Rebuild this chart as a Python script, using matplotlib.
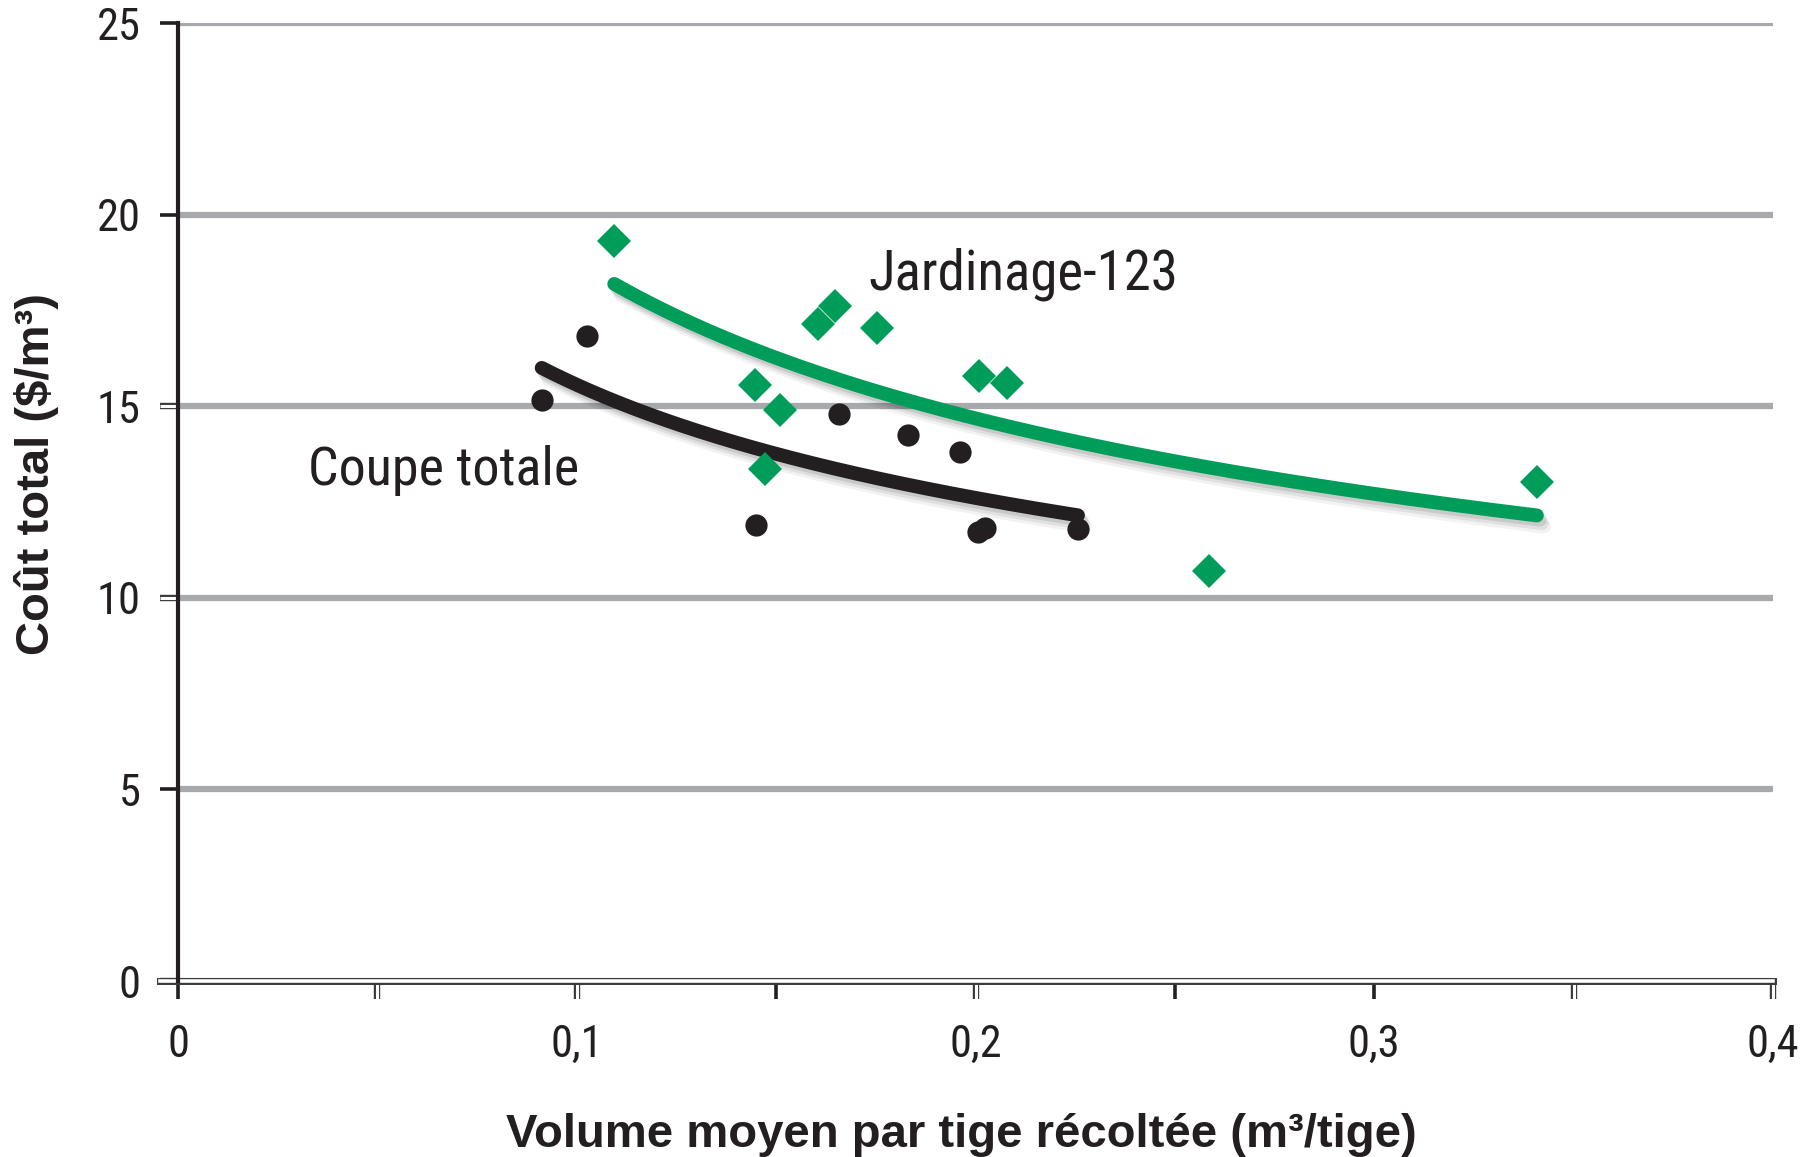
import numpy as np
import matplotlib
matplotlib.use("Agg")
import matplotlib.pyplot as plt
import matplotlib.patheffects as pe
from matplotlib.ticker import FixedLocator, FixedFormatter

# ---- data ----
coupe_x = [0.0912, 0.1025, 0.1449, 0.1657, 0.1830, 0.1960, 0.2006, 0.2023, 0.2257]
coupe_y = [15.16, 16.84, 11.91, 14.80, 14.26, 13.81, 11.73, 11.82, 11.79]

jard_x = [0.1094, 0.1446, 0.1509, 0.1472, 0.1605, 0.1648, 0.1752, 0.2009, 0.2078, 0.2586, 0.3408]
jard_y = [19.30, 15.55, 14.89, 13.36, 17.14, 17.62, 17.05, 15.79, 15.61, 10.71, 13.03]

x_ticks = [0, 0.05, 0.1, 0.15, 0.2, 0.25, 0.3, 0.35, 0.4]
x_tick_labels = ["0", "", "0,1", "", "0,2", "", "0,3", "", "0,4"]
y_ticks = [0, 5, 10, 15, 20, 25]
y_tick_labels = ["0", "5", "10", "15", "20", "25"]

label_coupe = "Coupe totale"
label_jard = "Jardinage-123"
xlabel = "Volume moyen par tige récoltée (m³/tige)"
ylabel = "Coût total ($/m³)"

GREEN = "#009d5a"
BLACK = "#231f20"
GRID = "#a8a9ac"

NARROW = ["Liberation Sans Narrow", "Roboto Condensed", "Roboto", "DejaVu Sans"]
BOLD = ["Liberation Sans", "DejaVu Sans"]

fig = plt.figure(figsize=(18.04, 11.57), dpi=100)
ax = fig.add_axes([0.0987, 0.1521, 0.9828 - 0.0987, 0.9801 - 0.1521])

ax.set_xlim(0, 0.4)
ax.set_ylim(0, 25)

# grid
ax.set_axisbelow(True)
ax.yaxis.grid(True, color=GRID, linewidth=4.5, zorder=0)
ax.xaxis.grid(False)

# spines
for s in ["top", "right", "bottom"]:
    ax.spines[s].set_visible(False)
ax.spines["left"].set_color(BLACK)
ax.spines["left"].set_linewidth(3.0)
ax.spines["left"].set_zorder(3)

# hollow x axis line
hollow = [pe.Stroke(linewidth=5.0, foreground="#3a3a3a"), pe.Stroke(linewidth=2.6, foreground="white")]
axl = ax.axhline(0, xmin=-0.0113, xmax=1.0, color="#3a3a3a", linewidth=5.0, clip_on=False, zorder=2.5)
axl.set_path_effects(hollow)

# ticks
ax.xaxis.set_major_locator(FixedLocator(x_ticks))
ax.xaxis.set_major_formatter(FixedFormatter(x_tick_labels))
ax.yaxis.set_major_locator(FixedLocator(y_ticks))
ax.yaxis.set_major_formatter(FixedFormatter(y_tick_labels))
ax.tick_params(axis="both", direction="out", length=13, width=2.6, color=BLACK, labelcolor=BLACK)
ax.tick_params(axis="y", pad=14)
ax.tick_params(axis="x", pad=18)
for lab in ax.get_xticklabels() + ax.get_yticklabels():
    lab.set_fontfamily(NARROW)
    lab.set_fontsize(32)

hollow_tick = [pe.Stroke(linewidth=4.6, foreground="#3a3a3a"), pe.Stroke(linewidth=2.2, foreground="white")]
x_hollow = [0.05, 0.1, 0.2, 0.35, 0.4]
for t, v in zip(ax.xaxis.get_major_ticks(), x_ticks):
    if v in x_hollow:
        t.tick1line.set_path_effects(hollow_tick)
y_hollow = [0, 10, 15]
for t, v in zip(ax.yaxis.get_major_ticks(), y_ticks):
    if v in y_hollow:
        t.tick1line.set_path_effects(hollow_tick)

# power-law trend curves fitted to data
def power_fit(xs, ys):
    xs = np.asarray(xs); ys = np.asarray(ys)
    b, a = np.polyfit(np.log(xs), np.log(ys), 1)
    xx = np.linspace(xs.min(), xs.max(), 300)
    return xx, np.exp(a) * xx ** b

shadow = [
    pe.SimpleLineShadow(offset=(2.0, -3.0), shadow_color="#000000", alpha=0.10),
    pe.SimpleLineShadow(offset=(3.5, -5.5), shadow_color="#000000", alpha=0.07),
    pe.SimpleLineShadow(offset=(5.0, -8.0), shadow_color="#000000", alpha=0.05),
    pe.Normal(),
]

cx, cy = power_fit(coupe_x, coupe_y)
ln1, = ax.plot(cx, cy, color=BLACK, linewidth=10, solid_capstyle="round", zorder=4)
ln1.set_path_effects(shadow)
jx, jy = power_fit(jard_x, jard_y)
ln2, = ax.plot(jx, jy, color=GREEN, linewidth=10, solid_capstyle="round", zorder=4)
ln2.set_path_effects(shadow)

# points
ax.plot(coupe_x, coupe_y, linestyle="none", marker="o", markersize=16, color=BLACK,
        markeredgewidth=0, zorder=5)
ax.plot(jard_x, jard_y, linestyle="none", marker="D", markersize=17.5, color=GREEN,
        markeredgewidth=0, zorder=5)

# annotations
ax.text(0.1732, 18.04, label_jard, fontsize=39.5, family=NARROW, color=BLACK,
        ha="left", va="baseline", zorder=6)
ax.text(0.0326, 12.94, label_coupe, fontsize=39, family=NARROW, color=BLACK,
        ha="left", va="baseline", zorder=6)

# axis labels
fig.text(0.533, 0.0086, xlabel, fontsize=34, family=BOLD, fontweight="bold",
         color=BLACK, ha="center", va="baseline")
fig.text(0.0205, 0.590, ylabel, fontsize=34, family=BOLD, fontweight="bold",
         color=BLACK, ha="center", va="center", rotation=90)

fig.savefig("out.png", dpi=100, facecolor="white")
